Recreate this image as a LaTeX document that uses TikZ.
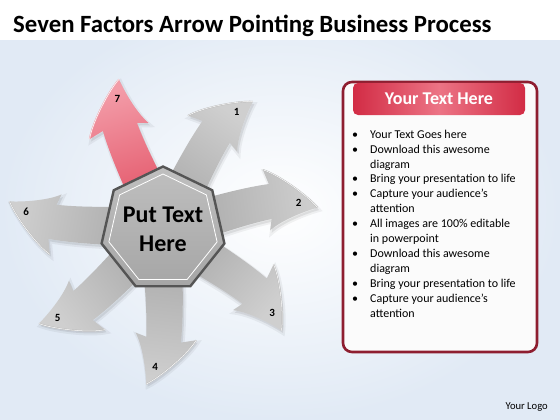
\documentclass[tikz,border=0pt]{standalone}
\usepackage{fontspec}
\setmainfont{Carlito}
\usetikzlibrary{shapes.geometric}

\definecolor{bgblue}{HTML}{E1EAF5}
\definecolor{framered}{HTML}{8E1E30}
\definecolor{headred}{HTML}{D22C45}
\definecolor{headpink}{HTML}{EC7485}
\definecolor{arrowred}{HTML}{E0485C}
\definecolor{arrowpink}{HTML}{F39CA8}
\definecolor{hubdark}{HTML}{555555}

\tikzset{
  % one arrow, pointing up, in its own frame (y up)
  arrowshape/.style={insert path={(-18,0) .. controls (-24,40) and (-30,80) .. (-30,111)
      -- (-45,107) .. controls (-38,122) and (-13,148) .. (0,156)
      .. controls (2,141) and (8,118) .. (16,106)
      -- (5,109) .. controls (7,80) and (14,50) .. (22,0) -- cycle}},
  arrowedge/.style={insert path={(-45,107) .. controls (-38,122) and (-13,148) .. (0,156)}},
  arrowgray/.style={top color=gray!38, middle color=gray!80, bottom color=gray!72},
  arrowhot/.style={top color=arrowpink, middle color=arrowred, bottom color=arrowred},
  arrowglow/.style={fill=black, fill opacity=0.08, draw=black, draw opacity=0.05, line width=4pt},
  numlabel/.style={font=\fontsize{11}{11}\selectfont\bfseries, inner sep=0pt},
  hubshape/.style={regular polygon, regular polygon sides=7, minimum size=117pt,
      inner sep=0pt, draw=hubdark, line width=2.4pt,
      top color=gray!50, middle color=gray!34, bottom color=gray!70,
      align=center, font=\fontsize{24}{29}\selectfont\bfseries},
}

\begin{document}
\begin{tikzpicture}[x=1pt, y=-1pt]
  \useasboundingbox (0,0) rectangle (560,420);

  % Background
  \shade[inner color=white, outer color=bgblue] (0,0) rectangle (560,420);
  \fill[white] (0,0) rectangle (560,40);

  % Title
  \node[anchor=base west, inner sep=0pt, font=\fontsize{24.8}{28}\selectfont\bfseries]
    (title) at (13,33) {Seven Factors Arrow Pointing Business Process};

  % Arrows around the hub
  \begin{scope}[shift={(163,229)}, y=1pt]
    % soft shadows
    \foreach \t in {54.8, 7.9, -40.6, -96.2, -142.7, 169.8, 106.4} {
      \begin{scope}[shift={(1.5,-2.5)}, rotate=\t-90]
        \path[arrowglow, arrowshape];
      \end{scope}
    }
    \foreach \t in {54.8, 7.9, -40.6, -96.2, -142.7, 169.8} {
      \pgfmathsetmacro{\r}{\t-90}
      \begin{scope}[rotate=\r]
        \shade[arrowgray, shading angle=\r, arrowshape];
        \draw[gray!55, line width=1.4pt, arrowedge];
        \draw[white, line width=0.5pt, arrowedge];
      \end{scope}
    }
    % highlighted arrow 7
    \begin{scope}[rotate=16.4]
      \shade[arrowhot, shading angle=16.4, arrowshape];
      \draw[arrowred!50, line width=1.4pt, arrowedge];
      \draw[white, line width=0.5pt, arrowedge];
    \end{scope}

    % Numbers
    \foreach \t/\n in {54.8/1, 7.9/2, -40.6/3, -96.2/4, -142.7/5, 169.8/6, 106.4/7}
      \node[numlabel] (num\n) at (\t+2.9:138) {\n};
  \end{scope}

  % Hub
  \node[hubshape] (hub) at (163,229.5) {Put Text\\Here};
  \node[regular polygon, regular polygon sides=7, minimum size=111pt, inner sep=0pt,
    draw=white, line width=0.8pt] (hubrim) at (163,229.5) {};

  % Text panel
  \node[draw=framered, line width=2.6pt, rounded corners=9pt, fill=gray!3,
    minimum width=194pt, minimum height=270pt, inner sep=0pt] (panel) at (440,217) {};
  \node[rounded corners=5pt, left color=headred, right color=headred, middle color=headpink,
    minimum width=172pt, minimum height=32pt, inner sep=0pt, text=white,
    font=\fontsize{18}{18}\selectfont\bfseries] (header) at (439,99) {Your Text Here};
  \node[anchor=north west, inner sep=0pt, font=\fontsize{12}{14.9}\selectfont] (body) at (352,127.6)
    {\begin{tabular}{@{}p{18pt}@{}l@{}}
      \textbullet & Your Text Goes here\\
      \textbullet & Download this awesome\\
                  & diagram\\
      \textbullet & Bring your presentation to life\\
      \textbullet & Capture your audience’s\\
                  & attention\\
      \textbullet & All images are 100\% editable\\
                  & in powerpoint\\
      \textbullet & Download this awesome\\
                  & diagram\\
      \textbullet & Bring your presentation to life\\
      \textbullet & Capture your audience’s\\
                  & attention
    \end{tabular}};

  % Logo
  \node[anchor=base east, inner sep=0pt, font=\fontsize{10.6}{12}\selectfont]
    (logo) at (548,409.5) {Your Logo};
\end{tikzpicture}
\end{document}
